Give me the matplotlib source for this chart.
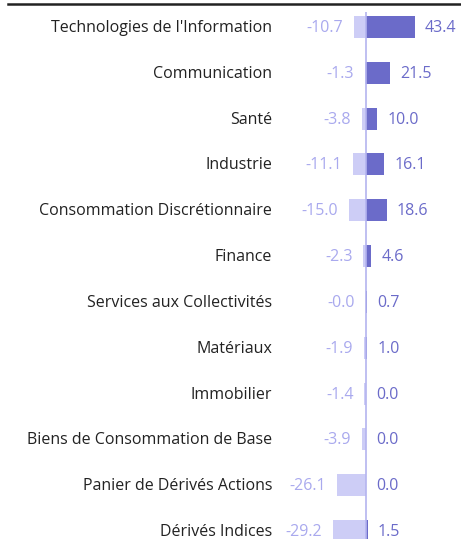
import matplotlib.pyplot as plt
import numpy as np

categories = ["Technologies de l'Information", "Communication", "Santé", "Industrie",
              "Consommation Discrétionnaire", "Finance", "Services aux Collectivités",
              "Matériaux", "Immobilier", "Biens de Consommation de Base",
              "Panier de Dérivés Actions", "Dérivés Indices"]
neg_values = [-10.7, -1.3, -3.8, -11.1, -15.0, -2.3, -0.0, -1.9, -1.4, -3.9, -26.1, -29.2]
pos_values = [43.4, 21.5, 10.0, 16.1, 18.6, 4.6, 0.7, 1.0, 0.0, 0.0, 0.0, 1.5]

plt.rcParams['font.family'] = ['Open Sans', 'DejaVu Sans']

W, H = 461, 539
px_per_unit = 1.13
zero_px = 366
row0_px = 27
row_step = 45.82

fig = plt.figure(figsize=(W / 100, H / 100), dpi=100)
ax = fig.add_axes([0, 0, 1, 1])
ax.set_xlim(-zero_px / px_per_unit, (W - zero_px) / px_per_unit)
ax.set_ylim(11 + (H - row0_px - 11 * row_step) / row_step, -row0_px / row_step)
ax.axis('off')

neg_bar = '#cdcdf6'
pos_bar = '#6b6bc9'
neg_txt = '#a9a9ee'
pos_txt = '#6b6bc9'
fs = 11.5

y = np.arange(len(categories))
ax.barh(y, neg_values, height=0.48, color=neg_bar, zorder=2)
ax.barh(y, pos_values, height=0.48, color=pos_bar, zorder=2)
ax.vlines(0, -0.33, 11.3, color='#b4b4ef', lw=1.2, zorder=3)

# top rule
ax.axhline(-0.51, xmin=8 / W, xmax=1, color='#222222', lw=1.8)

for i, (c, n, p) in enumerate(zip(categories, neg_values, pos_values)):
    ax.annotate(c, (0, i), xytext=(-94, -1), textcoords='offset pixels',
                ha='right', va='center', fontsize=fs, color='#222222')
    ax.annotate(f'{n:.1f}' if n != 0 else '-0.0', (n, i), xytext=(-11, -1),
                textcoords='offset pixels', ha='right', va='center',
                fontsize=fs, color=neg_txt)
    ax.annotate(f'{p:.1f}', (p, i), xytext=(10, -1), textcoords='offset pixels',
                ha='left', va='center', fontsize=fs, color=pos_txt)

fig.savefig('out.png', dpi=100)
